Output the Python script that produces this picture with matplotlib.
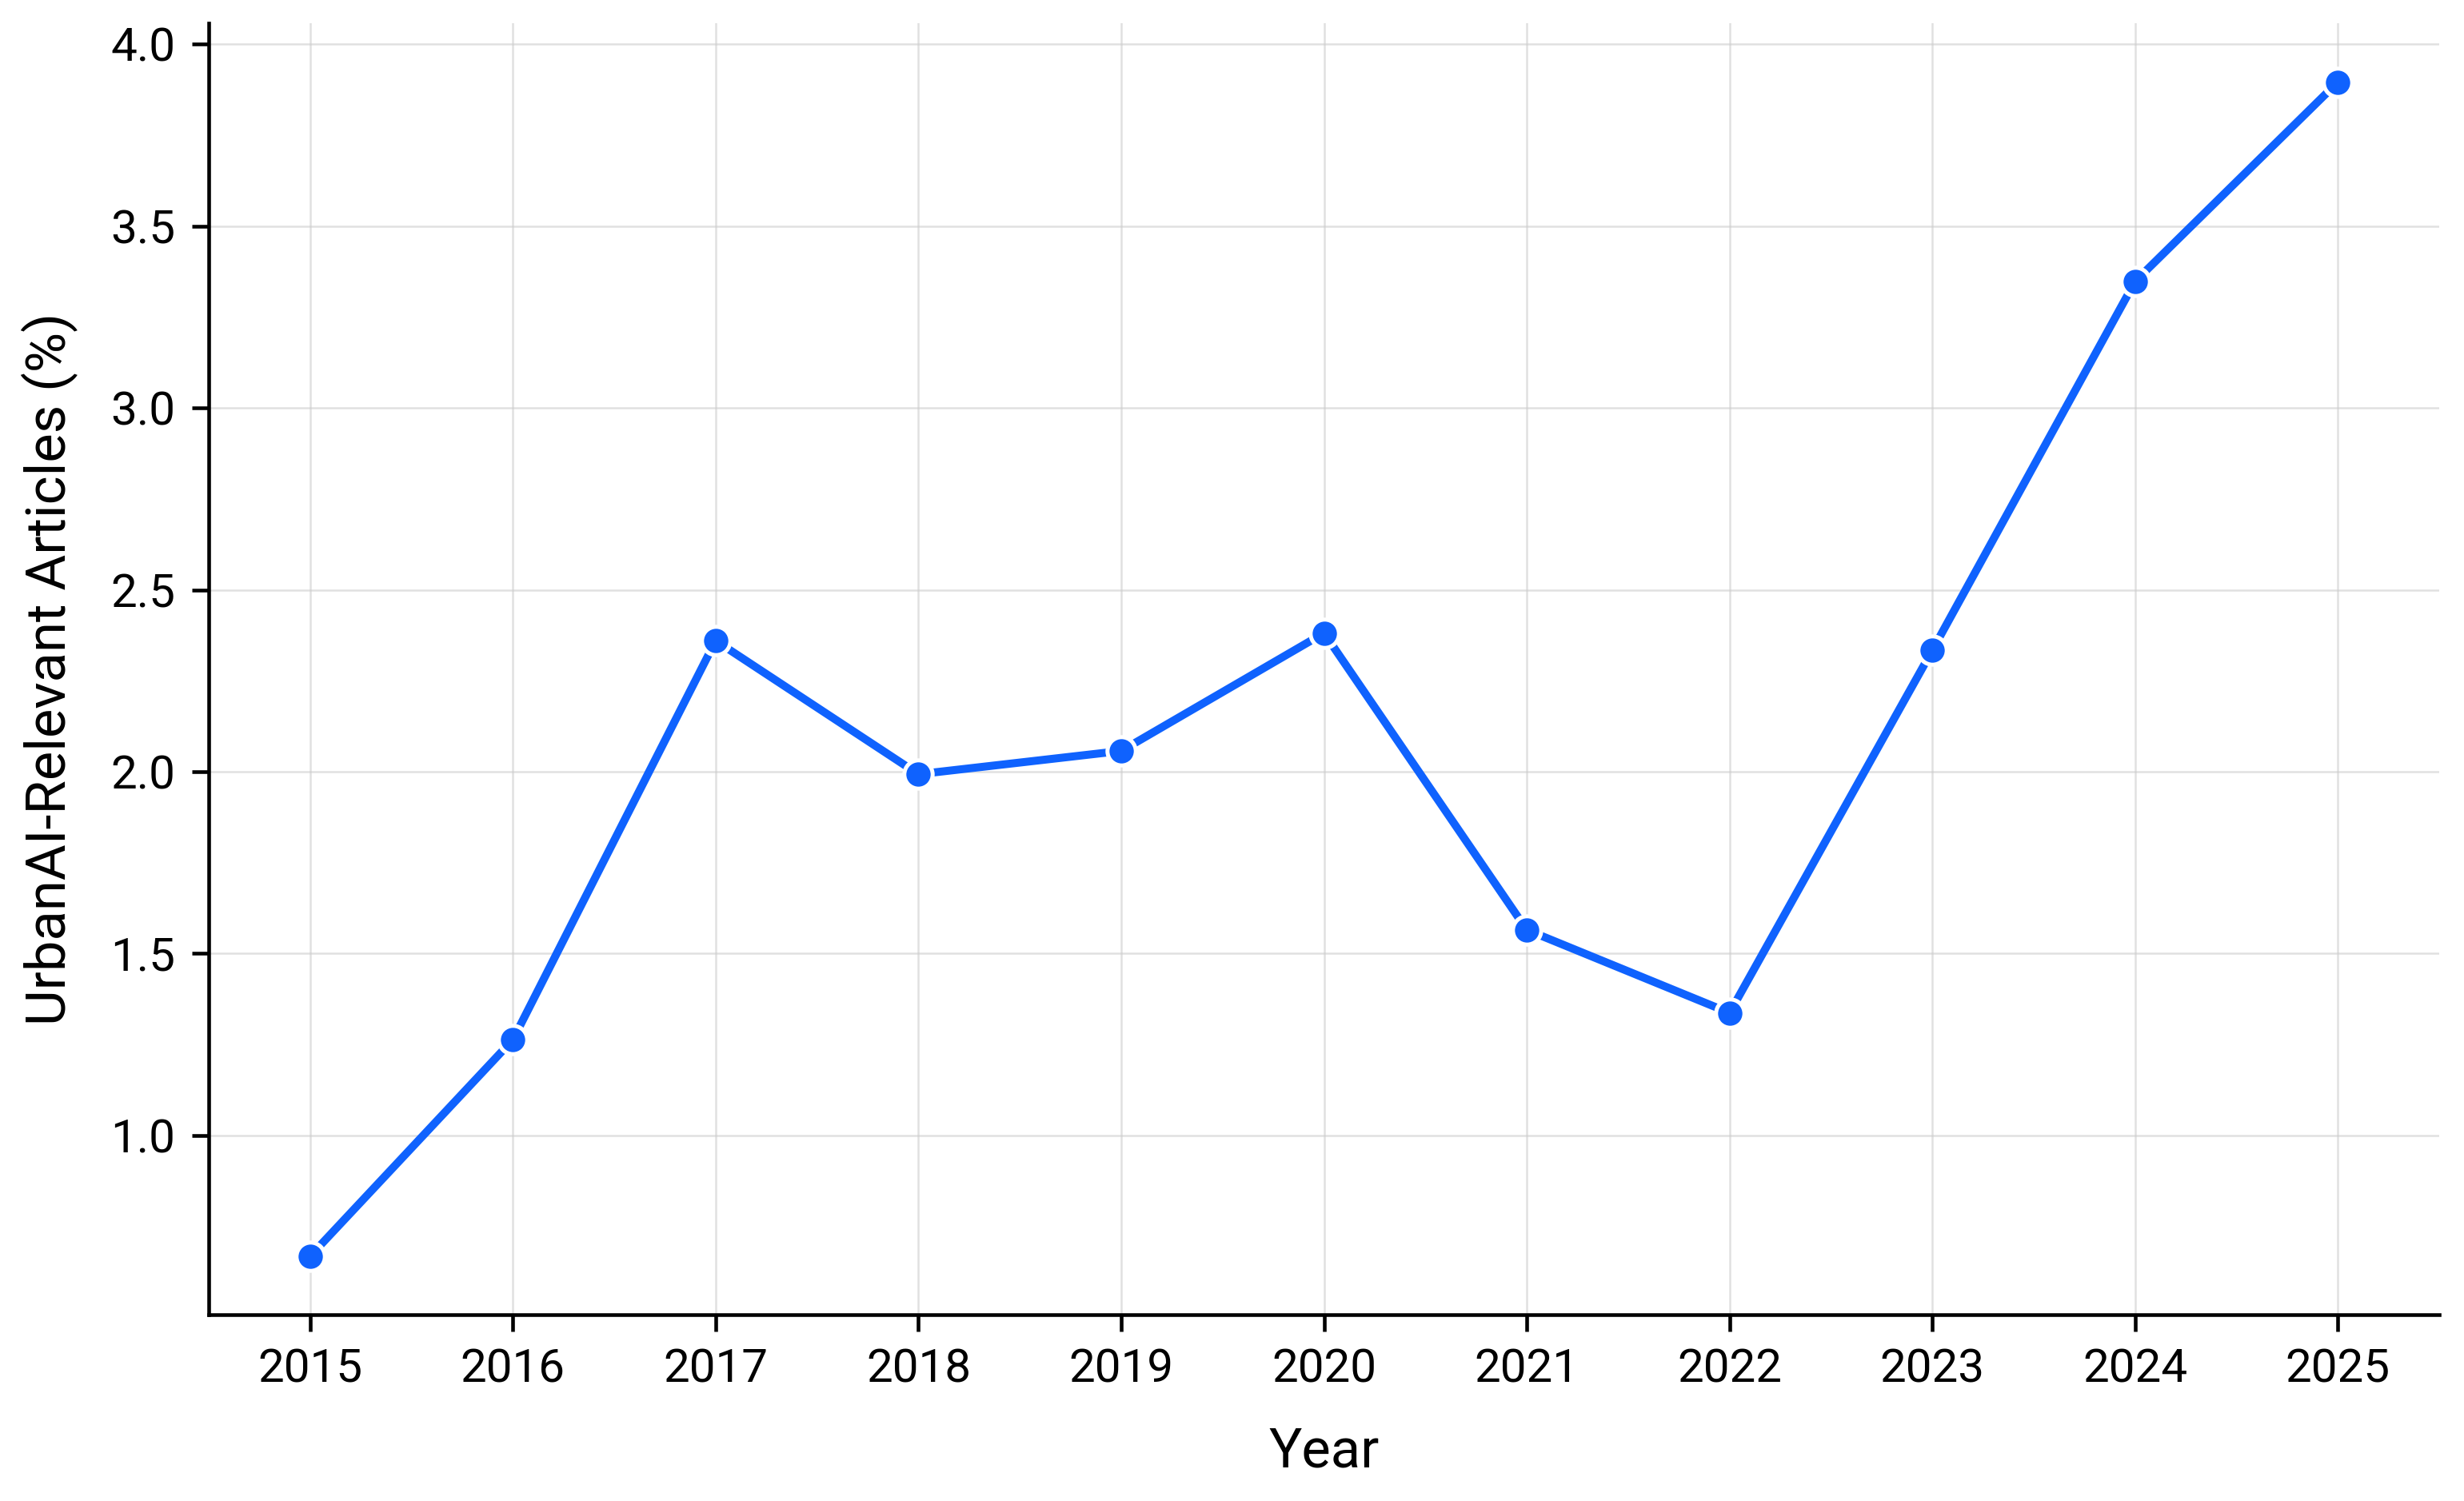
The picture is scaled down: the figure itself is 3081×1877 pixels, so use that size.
import numpy as np
import matplotlib
matplotlib.use("Agg")
import matplotlib.pyplot as plt

years = [2015, 2016, 2017, 2018, 2019, 2020, 2021, 2022, 2023, 2024, 2025]
share = [0.668, 1.263, 2.360, 1.993, 2.057, 2.381, 1.565, 1.337, 2.334, 3.348, 3.896]

plt.rcParams['font.family'] = ['Roboto', 'DejaVu Sans']

fig = plt.figure(figsize=(3081 / 300, 1877 / 300), dpi=300)
ax = fig.add_axes([0.0847, 0.124, 0.9053, 0.8605])

ax.plot(years, share, color='#0f62fe', lw=2.4, marker='o', markersize=8.5,
        markeredgecolor='white', markeredgewidth=1.2, zorder=3)

ax.set_xticks(years)
ax.set_yticks([1.0, 1.5, 2.0, 2.5, 3.0, 3.5, 4.0])
ax.grid(True, color='#cccccc', lw=0.6, alpha=0.6)
ax.set_axisbelow(True)

for s in ['top', 'right']:
    ax.spines[s].set_visible(False)
for s in ['left', 'bottom']:
    ax.spines[s].set_linewidth(1.1)

ax.tick_params(labelsize=14, width=1.1, length=5, pad=5)
ax.set_xlabel('Year', fontsize=16.5, labelpad=10)
ax.set_ylabel('UrbanAI-Relevant Articles (%)', fontsize=16.5, labelpad=10)

fig.savefig('out.png', dpi=300)
